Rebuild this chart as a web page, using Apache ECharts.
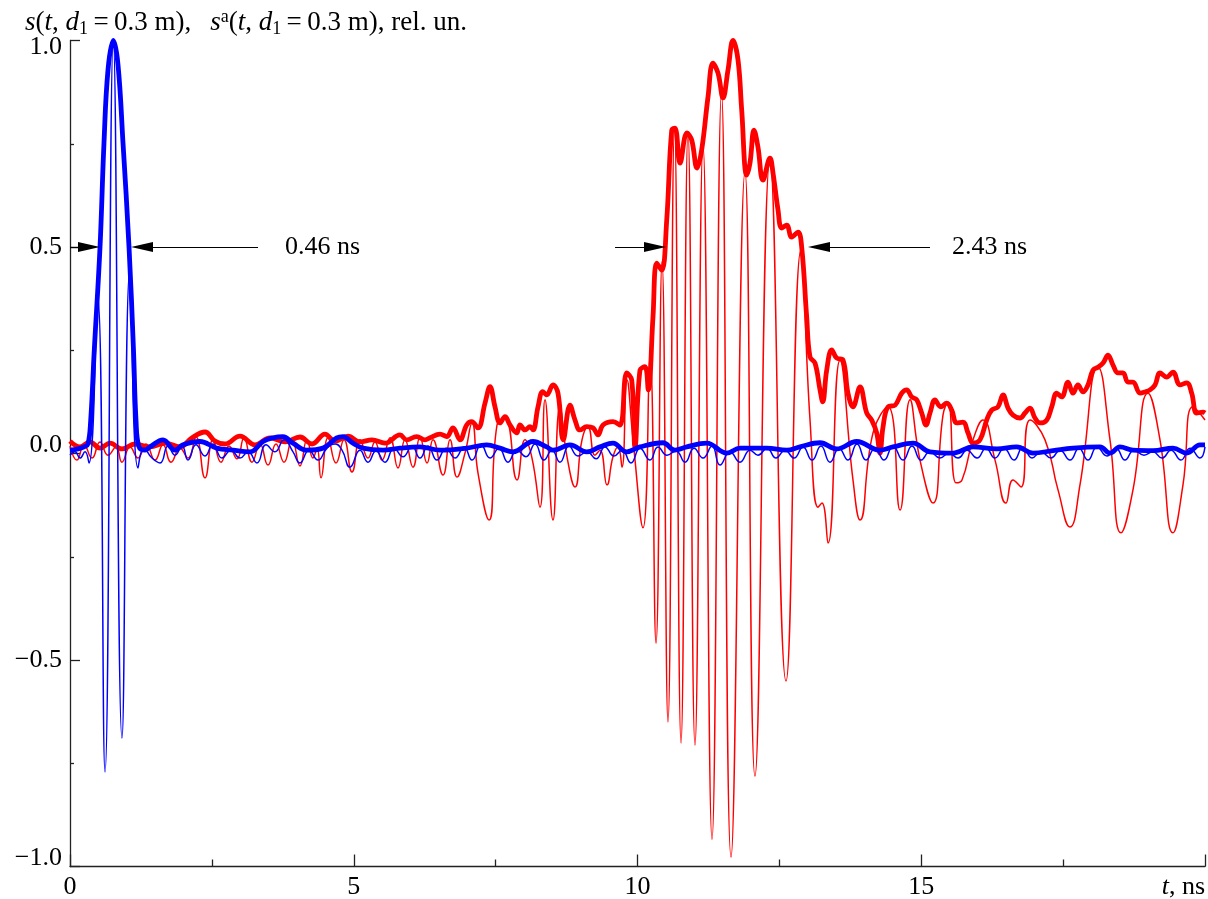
<!DOCTYPE html>
<html>
<head>
<meta charset="utf-8">
<title>s(t), s^a(t)</title>
<script src="https://cdn.jsdelivr.net/npm/echarts@6/dist/echarts.min.js"></script>
<style>
  html, body { margin: 0; padding: 0; background: #fff; }
  #chart { width: 1208px; height: 899px; }
</style>
</head>
<body>
<div id="chart"></div>
<script>
// t in ns, amplitude in rel. un.
const blueThin = [
  [0,-.004],[.088,.004],[.176,-.011],[.264,.004],[.335,-.023],[.485,.384],[.617,-.771],[.763,.999],[.916,-.689],[1.057,.449],
  [1.198,-.035],[1.304,.013],[1.445,-.011],[1.586,-.023],[1.727,.018],[1.85,-.004],[1.974,.018],[2.079,-.016],[2.22,.021],[2.379,-.006],
  [2.52,.023],[2.678,-.011],[2.837,.008],[2.996,-.011],[3.137,.004],[3.295,-.023],[3.454,.021],[3.612,.004],[3.771,.033],[3.93,.004],
  [4.053,-.023],[4.211,.008],[4.37,-.016],[4.529,.013],[4.67,.023],[4.793,.008],[4.934,-.033],[5.11,.008],[5.251,-.021],[5.392,.006],
  [5.551,-.021],[5.709,.013],[5.868,-.008],[6.026,.018],[6.167,-.011],[6.308,.018],[6.467,-.016],[6.626,.013],[6.784,-.011],[6.943,.016],
  [7.084,-.016],[7.242,.021],[7.401,-.011],[7.559,.013],[7.718,-.021],[7.877,.008],[8.035,-.008],[8.194,.023],[8.352,-.016],[8.493,.008],
  [8.634,-.021],[8.793,.018],[8.952,-.006],[9.11,.004],[9.269,-.013],[9.427,.016],[9.586,-.006],[9.727,.008],[9.885,-.023],[10.044,.013],
  [10.22,-.016],[10.361,.016],[10.52,-.004],[10.678,.006],[10.837,-.021],[10.996,.013],[11.154,-.011],[11.313,.018],[11.454,-.028],[11.63,.004],
  [11.806,-.021],[11.982,.008],[12.123,-.004],[12.282,.013],[12.441,-.011],[12.599,.008],[12.758,-.011],[12.916,.016],[13.075,-.016],[13.233,.018],
  [13.392,-.021],[13.551,.013],[13.709,-.016],[13.868,.023],[14.026,-.016],[14.185,.013],[14.344,-.016],[14.502,.018],[14.678,-.016],[14.837,.018],
  [14.996,-.016],[15.154,.004],[15.33,-.011],[15.489,.001],[15.648,-.011],[15.806,.008],[15.982,-.011],[16.141,.013],[16.3,-.011],[16.458,.013],
  [16.634,-.016],[16.793,.016],[16.952,-.011],[17.11,.004],[17.286,-.011],[17.445,.008],[17.621,-.016],[17.78,.013],[17.938,-.016],[18.097,.016],
  [18.273,-.006],[18.432,.013],[18.59,-.016],[18.749,.008],[18.925,-.004],[19.084,.004],[19.242,-.011],[19.401,.008],[19.577,-.016],[19.736,.013],
  [19.912,-.011],[20,.016]
]
const blueThick = [
  [0,.008],[.141,.011],[.247,.016],[.317,.023],[.365,.081],[.428,.25],[.529,.5],[.599,.752],[.67,.929],[.763,1],
  [.846,.941],[.934,.752],[1.04,.5],[1.119,.25],[1.163,.081],[1.216,.016],[1.322,.008],[1.41,.016],[1.639,.033],[1.85,.008],
  [1.991,.021],[2.291,.029],[2.585,.013],[2.872,.008],[3.172,.004],[3.401,.029],[3.577,.038],[3.753,.041],[3.93,.025],[4.171,.008],
  [4.458,.013],[4.7,.038],[4.811,.041],[4.987,.025],[5.163,.013],[5.515,.008],[5.815,.013],[6.167,.016],[6.52,.008],[6.99,.013],
  [7.343,.021],[7.577,.013],[7.806,.004],[8.159,.029],[8.4,.016],[8.511,.008],[8.811,.021],[9.105,.004],[9.339,.016],[9.568,.025],
  [9.81,.004],[10.044,.016],[10.449,.026],[10.661,.008],[10.867,.016],[11.22,.025],[11.572,.001],[11.806,.013],[12.276,.013],[12.629,.008],
  [12.863,.016],[13.216,.026],[13.51,.011],[13.863,.029],[14.273,.008],[14.502,.016],[14.855,.025],[15.154,.004],[15.559,.001],[15.912,.016],
  [16.33,.011],[16.682,.016],[16.969,.001],[17.322,.007],[17.674,.013],[18.15,.016],[18.326,.001],[18.502,.016],[18.731,.008],[19.084,.007],
  [19.436,.013],[19.678,.001],[19.912,.021],[20,.021]
]
const redThin = [
  [0,.018],[.123,-.016],[.247,.021],[.388,-.011],[.529,.028],[.67,-.004],[.811,.016],[.916,-.021],[1.057,.016],[1.198,-.011],
  [1.339,.023],[1.498,-.016],[1.639,.021],[1.78,-.021],[1.938,.013],[2.079,-.011],[2.22,.04],[2.379,-.059],[2.52,.033],[2.661,-.021],
  [2.802,.018],[2.943,-.013],[3.066,.038],[3.207,-.021],[3.348,.023],[3.489,-.028],[3.63,.023],[3.771,-.021],[3.912,.033],[4.053,-.03],
  [4.176,.033],[4.282,-.011],[4.353,.013],[4.423,-.059],[4.546,.038],[4.687,-.023],[4.828,.033],[4.969,-.045],[5.11,.033],[5.251,-.011],
  [5.374,.028],[5.498,-.016],[5.639,.038],[5.78,-.035],[5.903,.033],[6.044,-.033],[6.167,.04],[6.291,-.023],[6.396,.033],[6.573,-.052],
  [6.696,.033],[6.819,-.057],[6.96,.001],[7.084,.074],[7.189,-.047],[7.383,-.161],[7.524,.069],[7.665,.086],[7.877,-.064],[8.018,.033],
  [8.141,-.011],[8.282,-.13],[8.37,.13],[8.511,-.161],[8.634,.113],[8.758,-.008],[8.899,-.081],[9.022,.033],[9.128,.064],[9.251,-.004],
  [9.339,.008],[9.463,-.076],[9.568,-.008],[9.656,.016],[9.727,-.033],[9.815,.178],[9.921,.033],[10.097,-.18],[10.22,.238],[10.326,-.459],
  [10.432,.464],[10.537,-.65],[10.652,.788],[10.767,-.701],[10.89,.776],[11.013,-.706],[11.154,.747],[11.313,-.934],[11.48,.873],[11.648,-.977],
  [11.894,.682],[12.07,-.781],[12.335,.711],[12.617,-.551],[12.881,.493],[13.04,.081],[13.181,-.13],[13.251,-.12],[13.357,-.217],[13.568,.226],
  [13.797,-.064],[13.921,-.161],[14.15,.05],[14.414,.113],[14.626,-.137],[14.802,.13],[14.978,-.016],[15.207,-.12],[15.383,.093],[15.471,.125],
  [15.612,-.071],[15.718,-.064],[15.912,.033],[16.088,.081],[16.3,-.016],[16.493,-.12],[16.617,-.064],[16.758,-.081],[16.916,.081],[17.181,.033],
  [17.41,-.088],[17.621,-.178],[17.797,-.076],[18.115,.209],[18.326,.033],[18.52,-.192],[18.731,-.088],[18.996,.146],[19.207,.033],[19.436,-.192],
  [19.612,-.076],[19.789,.113],[20,.081]
]
const redThick = [
  [0,.03],[.176,.016],[.352,.028],[.529,.013],[.705,.025],[.916,.011],[1.145,.023],[1.41,.016],[1.674,.025],[1.938,.016],
  [2.15,.038],[2.379,.052],[2.555,.03],[2.731,.023],[2.996,.042],[3.26,.021],[3.524,.038],[3.789,.028],[4.053,.04],[4.264,.023],
  [4.493,.047],[4.67,.03],[4.899,.042],[5.11,.028],[5.322,.033],[5.551,.025],[5.815,.045],[5.933,.033],[6.109,.041],[6.256,.033],
  [6.344,.038],[6.52,.047],[6.638,.041],[6.749,.062],[6.872,.033],[6.99,.069],[7.078,.077],[7.189,.062],[7.313,.122],[7.401,.162],
  [7.489,.113],[7.577,.074],[7.665,.089],[7.753,.069],[7.871,.05],[7.93,.069],[8.018,.057],[8.106,.065],[8.159,.057],[8.247,.113],
  [8.33,.15],[8.4,.142],[8.511,.166],[8.599,.146],[8.692,.033],[8.811,.117],[8.899,.081],[8.987,.057],[9.105,.065],[9.216,.062],
  [9.304,.045],[9.392,.069],[9.568,.077],[9.692,.069],[9.81,.195],[9.898,.178],[9.956,.016],[10.044,.202],[10.132,.21],[10.19,.154],
  [10.273,.331],[10.339,.461],[10.427,.444],[10.515,.565],[10.603,.783],[10.661,.788],[10.749,.703],[10.872,.776],[10.955,.759],[11.049,.691],
  [11.131,.735],[11.242,.863],[11.33,.945],[11.419,.921],[11.507,.861],[11.595,.929],[11.683,1],[11.771,.953],[11.836,.832],[11.924,.674],
  [11.982,.703],[12.053,.783],[12.123,.742],[12.211,.662],[12.335,.715],[12.388,.679],[12.476,.59],[12.541,.546],[12.629,.553],[12.717,.524],
  [12.828,.536],[12.893,.5],[12.981,.331],[13.04,.234],[13.128,.219],[13.216,.154],[13.263,.125],[13.334,.202],[13.422,.251],[13.51,.231],
  [13.621,.226],[13.709,.146],[13.797,.113],[13.921,.161],[14.039,.098],[14.127,.081],[14.215,.05],[14.273,.001],[14.326,.064],[14.414,.113],
  [14.537,.117],[14.655,.146],[14.744,.154],[14.832,.137],[14.92,.13],[15.008,.098],[15.084,.069],[15.154,.098],[15.242,.13],[15.343,.113],
  [15.449,.122],[15.537,.105],[15.625,.074],[15.736,.076],[15.824,.05],[15.912,.025],[16.035,.033],[16.153,.081],[16.241,.105],[16.352,.113],
  [16.441,.142],[16.529,.11],[16.617,.093],[16.74,.086],[16.828,.098],[16.916,.11],[17.004,.086],[17.093,.074],[17.211,.081],[17.299,.113],
  [17.387,.146],[17.475,.137],[17.586,.173],[17.674,.146],[17.762,.166],[17.85,.149],[17.938,.166],[18.026,.202],[18.115,.209],[18.203,.219],
  [18.291,.238],[18.379,.214],[18.467,.195],[18.555,.195],[18.643,.173],[18.731,.173],[18.855,.146],[18.943,.149],[19.031,.154],[19.119,.166],
  [19.207,.195],[19.325,.185],[19.436,.197],[19.559,.166],[19.678,.171],[19.766,.146],[19.854,.098],[19.965,.1],[20,.098]
]
// pulse widths at half height: [tail t, arrow t] pairs and labels
const widthArrows = [
  [0, .335], [3.313, 1.269],
  [9.604, 10.308], [15.154, 13.198]
]
const widthLabels = [
  { t: 3.789, text: '0.46 ns' },
  { t: 15.542, text: '2.43 ns' }
]
const halfLevel = 0.5

const FONT = 'Liberation Serif'
const FS = 26
const chart = echarts.init(document.getElementById('chart'))

const option = {
  animation: false,
  backgroundColor: '#fff',
  title: {
    text: '{i|s}({i|t}, {i|d}{sub|1}\u2009=\u20090.3 m),\u2002\u2009{i|s}{sup|a}({i|t}, {i|d}{sub|1}\u2009=\u20090.3 m), rel. un.',
    left: 20,
    top: 3,
    textStyle: {
      fontFamily: FONT, fontSize: 27, fontWeight: 'normal', color: '#000',
      rich: {
        i: { fontFamily: FONT, fontSize: 27, fontStyle: 'italic', color: '#000' },
        sub: { fontFamily: FONT, fontSize: 18, color: '#000', padding: [12, 0, 0, 0] },
        sup: { fontFamily: FONT, fontSize: 18, color: '#000', padding: [0, 0, 12, 0] }
      }
    }
  },
  grid: { left: 70, right: 3, top: 40.5, bottom: 32.5, containLabel: false, outerBoundsMode: 'none' },
  xAxis: {
    type: 'value',
    min: 0,
    max: 20,
    interval: 5,
    axisLine: { onZero: false, lineStyle: { color: '#222', width: 1.3 } },
    axisTick: { inside: true, length: 12, lineStyle: { color: '#222', width: 1.3 } },
    minorTick: { show: true, splitNumber: 2, length: 7, lineStyle: { color: '#222', width: 1.3 } },
    splitLine: { show: false },
    axisLabel: {
      margin: 8,
      fontFamily: FONT, fontSize: FS, color: '#000',
      alignMaxLabel: 'right',
      formatter: (v) => (v === 20 ? '{i|t}, ns' : String(v)),
      rich: { i: { fontFamily: FONT, fontSize: FS, fontStyle: 'italic', color: '#000' } }
    }
  },
  yAxis: {
    type: 'value',
    min: -1,
    max: 1,
    interval: 0.5,
    axisLine: { lineStyle: { color: '#222', width: 1.3 } },
    axisTick: { inside: true, length: 10, lineStyle: { color: '#222', width: 1.3 } },
    minorTick: { show: true, splitNumber: 2, length: 4, lineStyle: { color: '#222', width: 1.3 } },
    splitLine: { show: false },
    axisLabel: {
      margin: 8,
      fontFamily: FONT, fontSize: FS, color: '#000',
      formatter: (v) => {
        const s = v.toFixed(1).replace('-', '\u2212')
        if (v === 1) return '{dn|' + s + '}'
        if (v === 0 || v === -1) return '{up|' + s + '}'
        return s
      },
      rich: {
        dn: { fontFamily: FONT, fontSize: FS, color: '#000', padding: [14, 0, 0, 0] },
        up: { fontFamily: FONT, fontSize: FS, color: '#000', padding: [0, 0, 16, 0] }
      }
    }
  },
  series: [
    {
      name: 'red s', type: 'line', data: redThin, showSymbol: false, smooth: 0.5,
      lineStyle: { color: '#ff0000', width: 1.5 }, z: 1
    },
    {
      name: 'red sa', type: 'line', data: redThick, showSymbol: false, smooth: 0.4,
      lineStyle: { color: '#ff0000', width: 4.8 }, z: 2
    },
    {
      name: 'blue s', type: 'line', data: blueThin, showSymbol: false, smooth: 0.5,
      lineStyle: { color: '#0000ff', width: 1.5 }, z: 3
    },
    {
      name: 'blue sa', type: 'line', data: blueThick, showSymbol: false, smooth: 0.4,
      lineStyle: { color: '#0000ff', width: 4.8 }, z: 4,
      markLine: {
        silent: true,
        symbol: ['none', 'triangle'],
        symbolSize: [10, 22],
        label: { show: false },
        lineStyle: { color: '#000', width: 1.2, type: 'solid' },
        itemStyle: { color: '#000' },
        data: widthArrows.map(([a, b]) => [{ coord: [a, halfLevel] }, { coord: [b, halfLevel] }])
      },
      markPoint: {
        silent: true,
        symbol: 'circle',
        symbolSize: 0,
        label: {
          show: true, position: 'right', distance: 0,
          fontFamily: FONT, fontSize: FS, color: '#000',
          formatter: (p) => p.name
        },
        data: widthLabels.map((d) => ({ name: d.text, coord: [d.t, halfLevel] }))
      }
    }
  ]
}
chart.setOption(option)
</script>
</body>
</html>
